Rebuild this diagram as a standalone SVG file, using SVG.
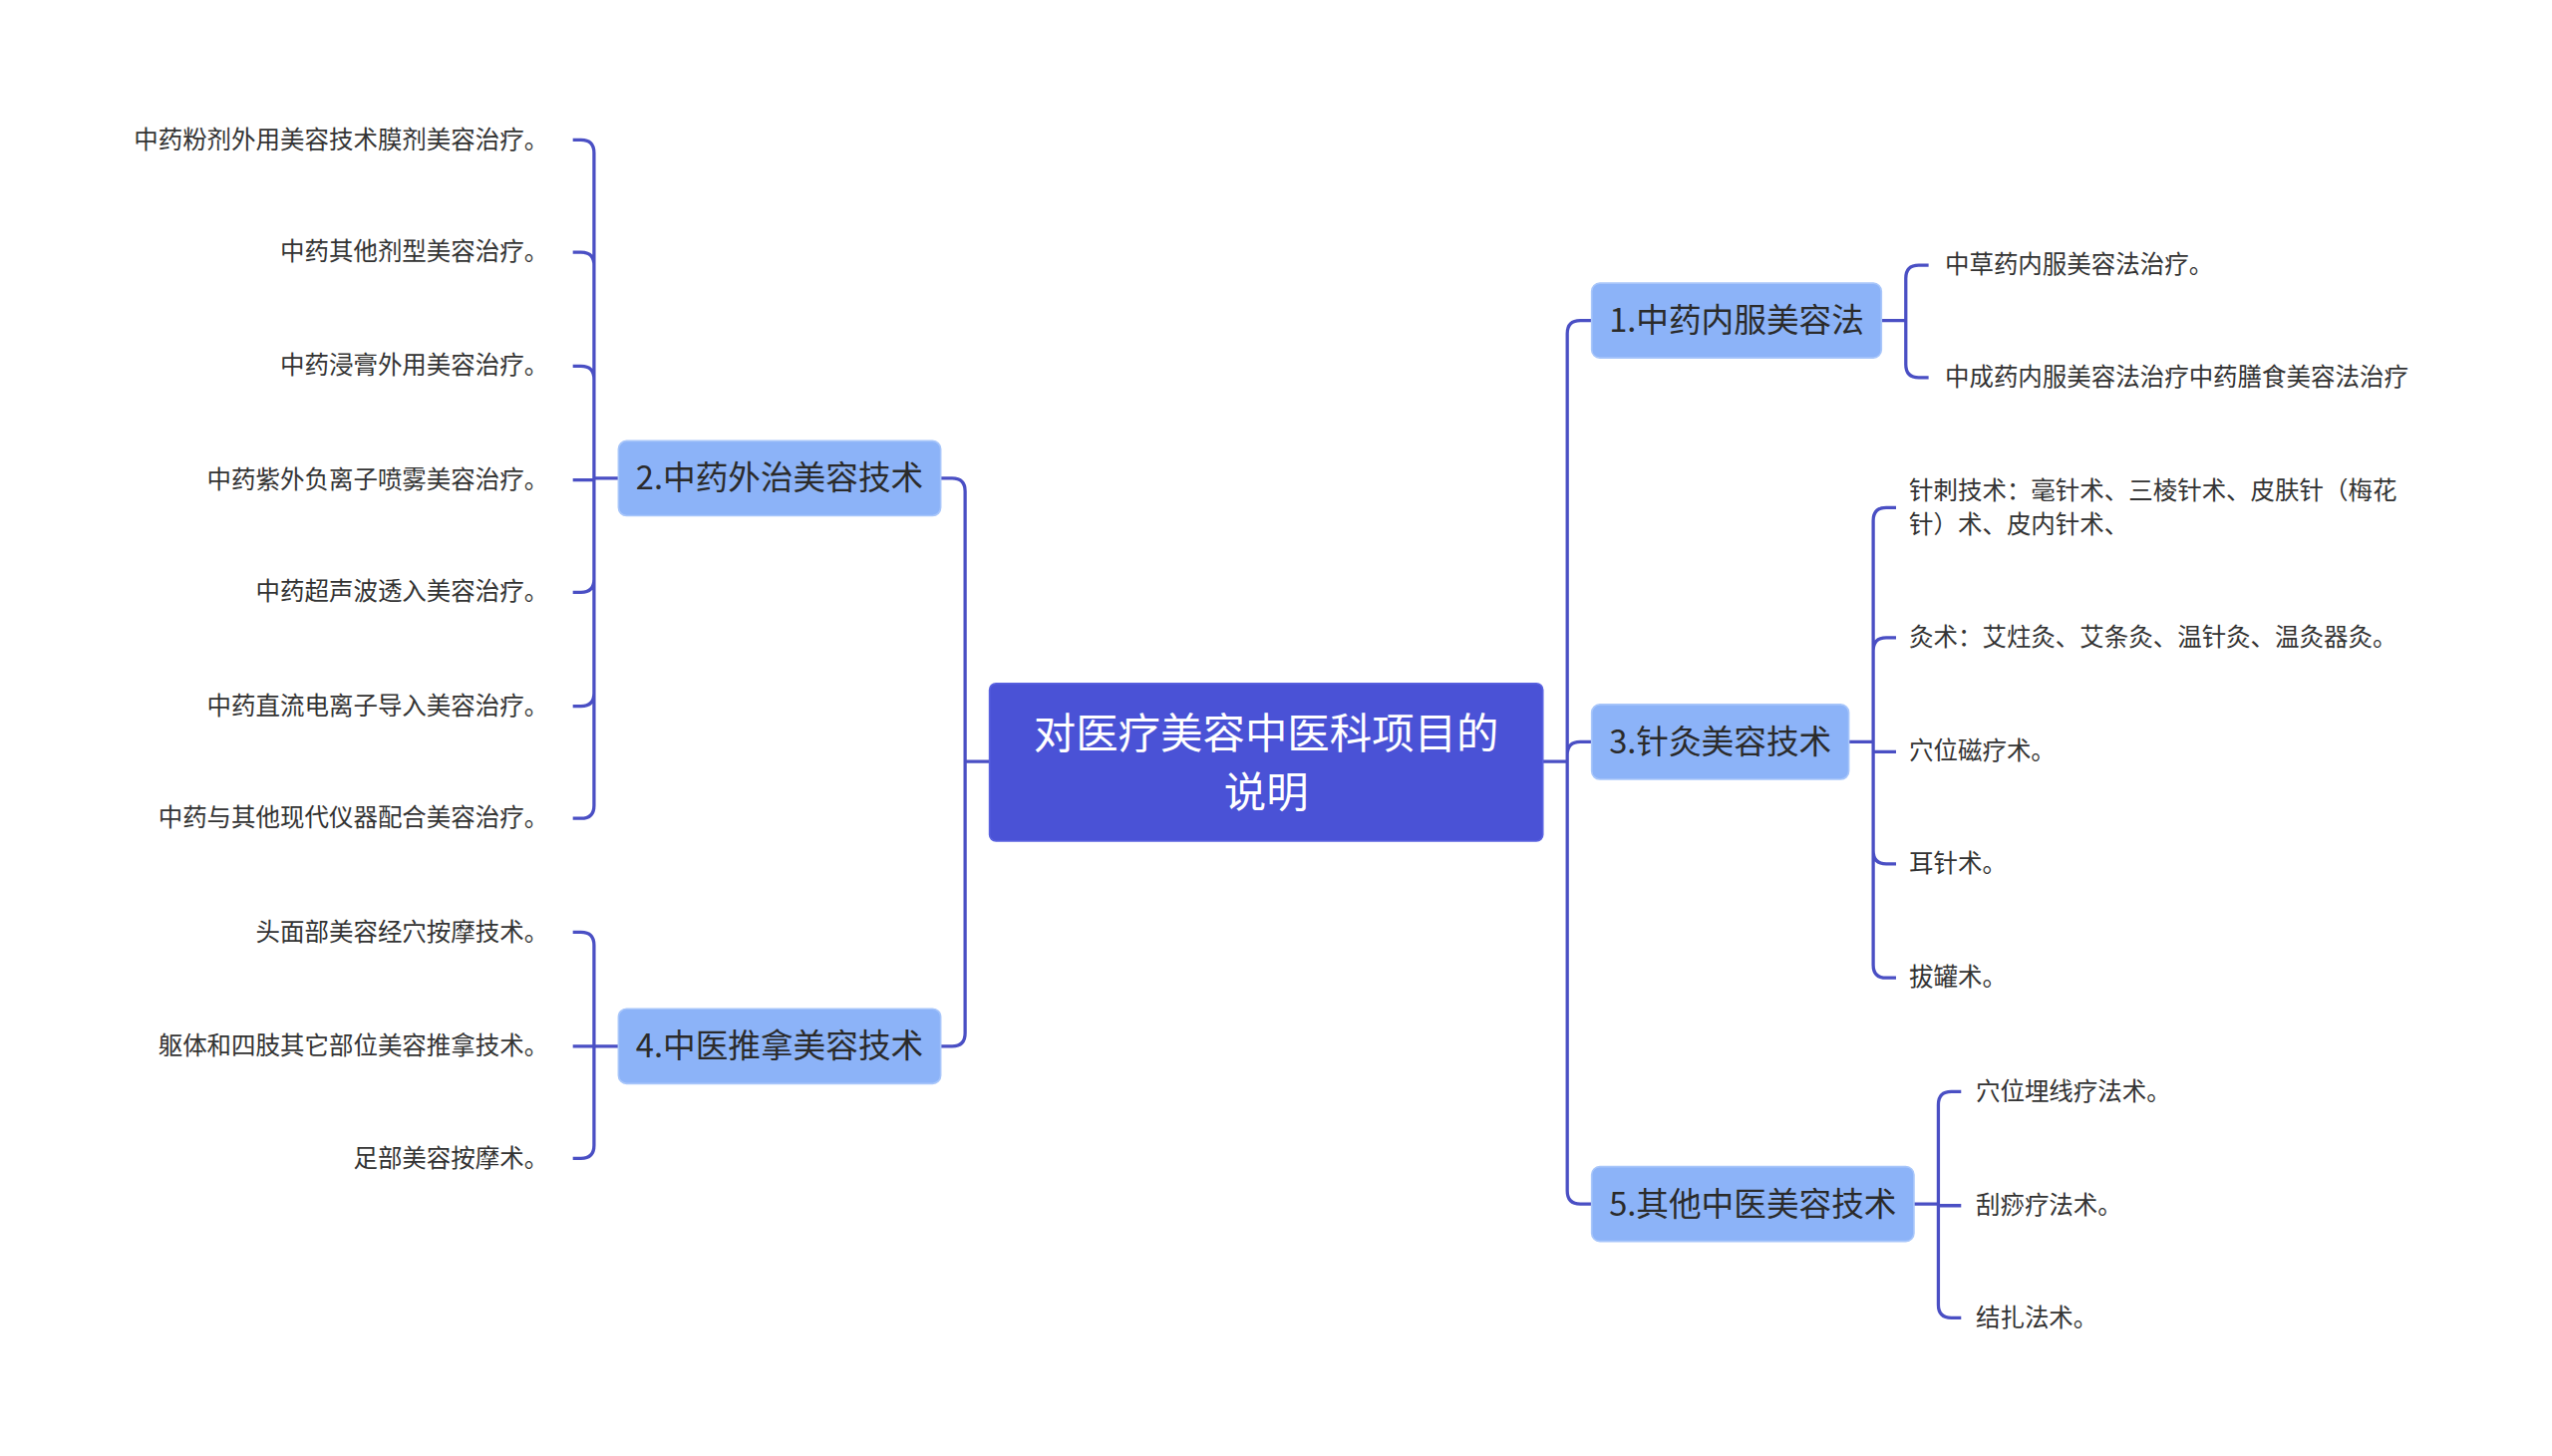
<svg xmlns="http://www.w3.org/2000/svg" width="2560" height="1461" viewBox="0 0 2560 1461">
<style>
.c{fill:none;stroke:#4a4fc4;stroke-width:2}
.b{fill:#8cb3f8;stroke:#a8c6fa;stroke-width:1}
.bt{font-family:"Noto Sans CJK SC","Noto Sans",sans-serif;font-size:20px;fill:#2b2b2b}
.l{font-family:"Noto Sans CJK SC","Noto Sans",sans-serif;font-size:15px;fill:#333}
.r{text-anchor:end}
</style>
<rect width="2560" height="1461" fill="#fff"/>
<g transform="scale(1.6326)">
<g id="connectors">
<path class="c" d="M608,468 H593 M593,468 V302 Q593,294 585,294 H578 M593,468 V635 Q593,643 585,643 H578"/>
<path class="c" d="M948,468 H963 M963,468 V205 Q963,197 971,197 H978 M963,468 V464 Q963,456 971,456 H978 M963,468 V732 Q963,740 971,740 H978"/>
<path class="c" d="M380,294 H365 M365,294 V94 Q365,86 357,86 H352 M365,294 V163 Q365,155 357,155 H352 M365,294 V233 Q365,225 357,225 H352 M365,295 H352 M365,294 V356 Q365,364 357,364 H352 M365,294 V426 Q365,434 357,434 H352 M365,294 V495 Q365,503 357,503 H352"/>
<path class="c" d="M380,643 H365 M365,643 V581 Q365,573 357,573 H352 M365,643 H352 M365,643 V704 Q365,712 357,712 H352"/>
<path class="c" d="M1156,197 H1171 M1171,197 V171 Q1171,163 1179,163 H1185 M1171,197 V224 Q1171,232 1179,232 H1185"/>
<path class="c" d="M1136,456 H1151 M1151,456 V320 Q1151,312 1159,312 H1165 M1151,456 V400 Q1151,392 1159,392 H1165 M1151,462 H1165 M1151,456 V523 Q1151,531 1159,531 H1165 M1151,456 V593 Q1151,601 1159,601 H1165"/>
<path class="c" d="M1176,740 H1191 M1191,740 V679 Q1191,671 1199,671 H1205 M1191,741 H1205 M1191,740 V802 Q1191,810 1199,810 H1205"/>
</g>
<g id="root"><rect x="608" y="420" width="340" height="97" rx="4" fill="#4a52d6" stroke="#5a62e0"/>
<text x="778" y="460" text-anchor="middle" font-family="Noto Sans CJK SC,sans-serif" font-size="26" fill="#fff">对医疗美容中医科项目的</text>
<text x="778" y="496" text-anchor="middle" font-family="Noto Sans CJK SC,sans-serif" font-size="26" fill="#fff">说明</text></g>
<g id="n1"><rect class="b" x="978" y="174" width="178" height="46" rx="5"/><text class="bt" x="1067" y="204" text-anchor="middle">1.中药内服美容法</text></g>
<g id="n2"><rect class="b" x="380" y="271" width="198" height="46" rx="5"/><text class="bt" x="479" y="301" text-anchor="middle">2.中药外治美容技术</text></g>
<g id="n3"><rect class="b" x="978" y="433" width="158" height="46" rx="5"/><text class="bt" x="1057" y="463" text-anchor="middle">3.针灸美容技术</text></g>
<g id="n4"><rect class="b" x="380" y="620" width="198" height="46" rx="5"/><text class="bt" x="479" y="650" text-anchor="middle">4.中医推拿美容技术</text></g>
<g id="n5"><rect class="b" x="978" y="717" width="198" height="46" rx="5"/><text class="bt" x="1077" y="747" text-anchor="middle">5.其他中医美容技术</text></g>
<g id="leaves2">
<text class="l r" x="337" y="91">中药粉剂外用美容技术膜剂美容治疗。</text>
<text class="l r" x="337" y="160">中药其他剂型美容治疗。</text>
<text class="l r" x="337" y="230">中药浸膏外用美容治疗。</text>
<text class="l r" x="337" y="300">中药紫外负离子喷雾美容治疗。</text>
<text class="l r" x="337" y="369">中药超声波透入美容治疗。</text>
<text class="l r" x="337" y="439">中药直流电离子导入美容治疗。</text>
<text class="l r" x="337" y="508">中药与其他现代仪器配合美容治疗。</text>
</g>
<g id="leaves4">
<text class="l r" x="337" y="578">头面部美容经穴按摩技术。</text>
<text class="l r" x="337" y="648">躯体和四肢其它部位美容推拿技术。</text>
<text class="l r" x="337" y="717">足部美容按摩术。</text>
</g>
<g id="leaves1">
<text class="l" x="1195" y="168">中草药内服美容法治疗。</text>
<text class="l" x="1195" y="237">中成药内服美容法治疗中药膳食美容法治疗</text>
</g>
<g id="leaves3">
<text class="l" x="1173" y="307">针刺技术：毫针术、三棱针术、皮肤针（梅花</text>
<text class="l" x="1173" y="328">针）术、皮内针术、</text>
<text class="l" x="1173" y="397">灸术：艾炷灸、艾条灸、温针灸、温灸器灸。</text>
<text class="l" x="1173" y="467">穴位磁疗术。</text>
<text class="l" x="1173" y="536">耳针术。</text>
<text class="l" x="1173" y="606">拔罐术。</text>
</g>
<g id="leaves5">
<text class="l" x="1214" y="676">穴位埋线疗法术。</text>
<text class="l" x="1214" y="746">刮痧疗法术。</text>
<text class="l" x="1214" y="815">结扎法术。</text>
</g>
</g>
</svg>
